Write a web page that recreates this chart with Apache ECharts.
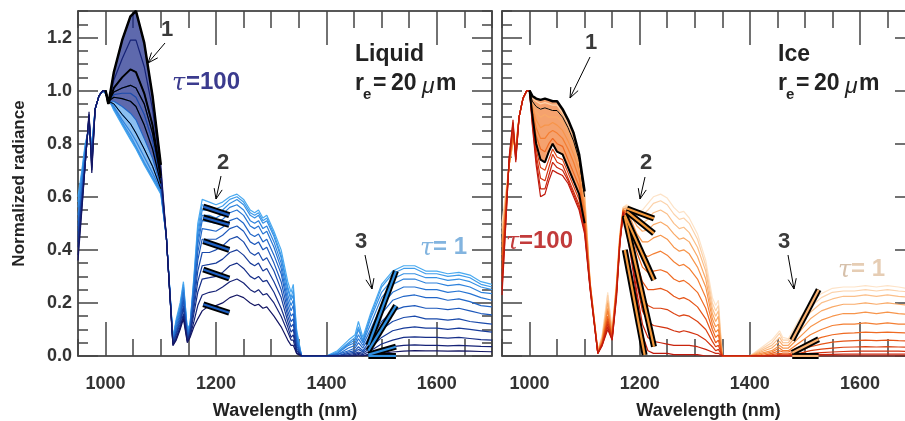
<!DOCTYPE html>
<html><head><meta charset="utf-8">
<script src="https://cdn.jsdelivr.net/npm/echarts@6/dist/echarts.min.js"></script>
<style>html,body{margin:0;padding:0;background:#fff}#c{width:905px;height:421px}</style>
</head><body><div id="c"></div>
<script>
// ---------- DATA ----------
const wlLiquid = [950,957,963,970,975,981,988,995,1000,1005,1015,1030,1045,1055,1070,1085,1100,1110,1122,1128,1135,1141,1148,1153,1160,1167,1175,1188,1200,1212,1225,1238,1250,1262,1270,1277,1285,1292,1305,1318,1330,1336,1340,1346,1355,1400,1420,1440,1452,1458,1466,1480,1500,1520,1540,1560,1580,1600,1620,1640,1660,1680,1700];
// liquid curves: C1 = tau 1 (lightest) ... C12 = tau 100 (darkest)
const liquidC1 = [0.60,0.70,0.80,0.86,0.80,0.93,0.98,1.00,0.99,0.97, 0.925,0.87,0.815,0.78,0.72,0.665,0.61, 0.45,0.07,0.14,0.20,0.28,0.10,0.12, 0.30,0.50,0.59,0.58,0.57,0.58,0.60,0.61,0.59,0.55,0.54,0.55,0.52,0.53,0.47,0.40,0.28,0.24,0.27,0.10,0.00, 0,0.02,0.06,0.08,0.13,0.07,0.16,0.27,0.32,0.34,0.34,0.32,0.32,0.31,0.315,0.305,0.28,0.27];
const liquidC2 = [0.58,0.69,0.79,0.87,0.79,0.93,0.98,1.00,0.99,0.97, 0.93,0.875,0.82,0.785,0.725,0.67,0.615, 0.45,0.07,0.13,0.19,0.27,0.10,0.12, 0.29,0.48,0.57,0.565,0.555,0.565,0.59,0.60,0.58,0.54,0.53,0.54,0.51,0.52,0.46,0.38,0.26,0.22,0.25,0.09,0.00, 0,0.015,0.05,0.07,0.11,0.06,0.15,0.26,0.31,0.33,0.33,0.31,0.31,0.30,0.305,0.295,0.27,0.26];
const liquidC3 = [0.56,0.68,0.78,0.87,0.78,0.93,0.98,1.00,0.99,0.97, 0.935,0.88,0.83,0.79,0.73,0.675,0.62, 0.45,0.065,0.13,0.18,0.26,0.09,0.115, 0.28,0.46,0.55,0.55,0.54,0.55,0.575,0.59,0.57,0.53,0.52,0.53,0.50,0.51,0.45,0.37,0.25,0.21,0.23,0.08,0.00, 0,0.01,0.045,0.06,0.10,0.055,0.14,0.24,0.29,0.31,0.31,0.295,0.295,0.285,0.29,0.28,0.26,0.25];
const liquidC4 = [0.53,0.66,0.77,0.88,0.77,0.93,0.98,1.00,0.99,0.96, 0.94,0.89,0.845,0.81,0.75,0.69,0.625, 0.45,0.06,0.12,0.17,0.25,0.09,0.11, 0.27,0.44,0.53,0.53,0.52,0.535,0.56,0.57,0.55,0.51,0.50,0.51,0.48,0.49,0.43,0.35,0.23,0.19,0.21,0.07,0.00, 0,0.01,0.04,0.05,0.08,0.05,0.12,0.22,0.27,0.29,0.29,0.275,0.275,0.265,0.27,0.26,0.24,0.235];
const liquidC5 = [0.51,0.64,0.76,0.88,0.76,0.93,0.98,1.00,0.99,0.96, 0.95,0.91,0.875,0.84,0.78,0.715,0.63, 0.45,0.06,0.11,0.16,0.24,0.085,0.105, 0.26,0.42,0.51,0.505,0.50,0.515,0.54,0.55,0.53,0.49,0.48,0.49,0.46,0.47,0.41,0.33,0.21,0.17,0.19,0.06,0.00, 0,0.005,0.03,0.04,0.065,0.04,0.10,0.19,0.24,0.26,0.26,0.25,0.25,0.24,0.245,0.235,0.22,0.21];
const liquidC6 = [0.49,0.62,0.75,0.89,0.75,0.93,0.98,1.00,0.99,0.96, 0.96,0.94,0.915,0.89,0.82,0.745,0.64, 0.45,0.055,0.10,0.15,0.22,0.08,0.10, 0.24,0.39,0.48,0.475,0.47,0.485,0.51,0.52,0.50,0.46,0.45,0.46,0.43,0.44,0.38,0.31,0.19,0.15,0.16,0.05,0.00, 0,0.005,0.02,0.03,0.05,0.03,0.08,0.16,0.21,0.225,0.23,0.22,0.22,0.21,0.215,0.205,0.19,0.185];
const liquidC7 = [0.47,0.61,0.74,0.89,0.74,0.93,0.98,1.00,0.99,0.96, 0.975,0.97,0.96,0.94,0.87,0.78,0.65, 0.45,0.05,0.09,0.14,0.21,0.075,0.095, 0.22,0.36,0.44,0.44,0.44,0.455,0.48,0.49,0.47,0.43,0.42,0.43,0.40,0.41,0.35,0.28,0.17,0.13,0.14,0.04,0.00, 0,0,0.015,0.02,0.035,0.02,0.06,0.13,0.17,0.185,0.19,0.18,0.18,0.175,0.18,0.17,0.16,0.155];
const liquidC8 = [0.45,0.60,0.73,0.90,0.73,0.93,0.98,1.00,1.00,0.96, 0.985,0.99,0.99,0.975,0.91,0.81,0.66, 0.45,0.05,0.085,0.13,0.19,0.07,0.09, 0.20,0.32,0.39,0.39,0.40,0.415,0.44,0.45,0.43,0.39,0.38,0.39,0.36,0.37,0.32,0.25,0.15,0.11,0.12,0.03,0.00, 0,0,0.01,0.015,0.025,0.015,0.045,0.10,0.13,0.145,0.15,0.14,0.14,0.135,0.14,0.13,0.125,0.12];
const liquidC9 = [0.43,0.59,0.73,0.90,0.72,0.93,0.98,1.00,1.00,0.96, 0.995,1.01,1.02,1.01,0.95,0.84,0.67, 0.45,0.045,0.08,0.12,0.18,0.065,0.085, 0.18,0.28,0.34,0.345,0.35,0.365,0.39,0.40,0.38,0.35,0.34,0.35,0.32,0.33,0.28,0.22,0.13,0.09,0.10,0.02,0.00, 0,0,0.005,0.01,0.015,0.01,0.03,0.07,0.095,0.105,0.11,0.105,0.105,0.10,0.105,0.10,0.095,0.09];
const liquidC10 = [0.41,0.58,0.72,0.91,0.71,0.93,0.98,1.00,1.00,0.95, 1.01,1.05,1.08,1.07,0.99,0.87,0.68, 0.45,0.045,0.07,0.11,0.16,0.06,0.08, 0.16,0.24,0.29,0.295,0.30,0.315,0.34,0.35,0.33,0.30,0.29,0.30,0.28,0.285,0.24,0.18,0.11,0.07,0.08,0.02,0.00, 0,0,0,0.005,0.01,0.005,0.02,0.045,0.06,0.07,0.072,0.07,0.07,0.067,0.07,0.066,0.062,0.06];
const liquidC11 = [0.38,0.56,0.72,0.91,0.70,0.93,0.98,1.00,1.00,0.95, 1.04,1.12,1.19,1.19,1.09,0.93,0.70, 0.45,0.04,0.065,0.105,0.15,0.055,0.075, 0.13,0.19,0.23,0.24,0.245,0.26,0.28,0.29,0.275,0.25,0.24,0.25,0.23,0.235,0.20,0.15,0.09,0.06,0.06,0.01,0.00, 0,0,0,0,0.005,0,0.01,0.025,0.035,0.04,0.042,0.04,0.04,0.038,0.04,0.038,0.036,0.035];
const liquidC12 = [0.36,0.55,0.72,0.92,0.69,0.93,0.98,1.00,1.00,0.95, 1.07,1.19,1.28,1.30,1.18,0.98,0.72, 0.45,0.04,0.06,0.10,0.14,0.05,0.07, 0.11,0.14,0.17,0.19,0.19,0.20,0.22,0.23,0.22,0.20,0.19,0.195,0.18,0.185,0.15,0.11,0.06,0.04,0.04,0.01,0.00, 0,0,0,0,0,0,0.005,0.01,0.015,0.018,0.02,0.019,0.019,0.018,0.019,0.018,0.017,0.016];

const wlIce = [950,957,963,970,975,981,988,995,1000,1005,1012,1020,1028,1035,1042,1050,1060,1070,1080,1090,1100,1110,1124,1132,1142,1150,1158,1164,1170,1176,1185,1195,1205,1215,1225,1238,1250,1262,1272,1280,1290,1305,1320,1332,1338,1343,1350,1400,1420,1440,1454,1460,1470,1490,1510,1530,1550,1570,1590,1610,1630,1650,1670,1700];
// ice curves: C1 = tau 1 (lightest) ... C12 = tau 100 (dark red)
const iceC1 = [0.50,0.62,0.72,0.80,0.80,0.90,0.97,1.0,1.0, 0.98,0.97,0.965,0.97,0.965,0.96,0.96,0.93,0.89,0.84,0.76,0.62, 0.28,0.02,0.08,0.24,0.10,0.28,0.46,0.56, 0.57,0.56,0.545,0.55,0.575,0.60,0.61,0.595,0.56,0.54,0.545,0.52,0.46,0.36,0.22,0.19,0.21,0.0, 0,0.03,0.06,0.095,0.07,0.065,0.14,0.2,0.235,0.255,0.26,0.26,0.265,0.26,0.265,0.26,0.25];
const iceC2 = [0.48,0.61,0.72,0.80,0.79,0.90,0.97,1.0,1.0, 0.97,0.96,0.95,0.955,0.95,0.945,0.945,0.915,0.875,0.83,0.75,0.61, 0.28,0.02,0.075,0.23,0.10,0.28,0.46,0.56, 0.565,0.55,0.53,0.53,0.55,0.575,0.585,0.57,0.535,0.515,0.52,0.50,0.44,0.34,0.20,0.17,0.19,0.0, 0,0.025,0.05,0.085,0.06,0.06,0.125,0.185,0.22,0.24,0.245,0.245,0.25,0.245,0.25,0.245,0.24];
const iceC3 = [0.46,0.60,0.72,0.81,0.79,0.90,0.97,1.0,1.0, 0.96,0.94,0.93,0.935,0.93,0.925,0.925,0.90,0.86,0.81,0.74,0.60, 0.28,0.02,0.07,0.21,0.09,0.27,0.45,0.555, 0.56,0.54,0.51,0.50,0.515,0.54,0.55,0.535,0.50,0.48,0.485,0.465,0.41,0.32,0.18,0.15,0.17,0.0, 0,0.02,0.04,0.07,0.05,0.05,0.11,0.165,0.2,0.215,0.225,0.225,0.23,0.225,0.23,0.225,0.22];
const iceC4 = [0.43,0.59,0.72,0.81,0.78,0.90,0.97,1.0,1.0, 0.95,0.92,0.90,0.91,0.90,0.90,0.90,0.88,0.84,0.79,0.72,0.58, 0.275,0.02,0.065,0.20,0.09,0.27,0.45,0.555, 0.555,0.525,0.49,0.47,0.475,0.495,0.505,0.49,0.46,0.44,0.445,0.43,0.375,0.29,0.16,0.13,0.15,0.0, 0,0.015,0.03,0.055,0.04,0.04,0.09,0.14,0.17,0.185,0.195,0.195,0.2,0.195,0.2,0.195,0.19];
const iceC5 = [0.41,0.58,0.72,0.82,0.78,0.90,0.97,1.0,1.0, 0.94,0.89,0.86,0.87,0.87,0.88,0.87,0.85,0.81,0.76,0.70,0.56, 0.275,0.015,0.06,0.18,0.08,0.26,0.44,0.55, 0.55,0.51,0.46,0.43,0.43,0.445,0.455,0.44,0.41,0.395,0.40,0.385,0.335,0.26,0.14,0.11,0.12,0.0, 0,0.01,0.02,0.04,0.03,0.03,0.07,0.11,0.135,0.15,0.16,0.16,0.165,0.16,0.165,0.16,0.155];
const iceC6 = [0.38,0.57,0.72,0.83,0.77,0.90,0.97,1.0,1.0, 0.93,0.86,0.82,0.82,0.84,0.85,0.84,0.82,0.78,0.73,0.67,0.54, 0.27,0.015,0.055,0.17,0.08,0.26,0.44,0.55, 0.545,0.49,0.43,0.385,0.375,0.385,0.395,0.38,0.355,0.34,0.345,0.33,0.29,0.22,0.12,0.09,0.10,0.0, 0,0.005,0.015,0.03,0.02,0.02,0.05,0.08,0.10,0.115,0.12,0.12,0.125,0.12,0.125,0.12,0.12];
const iceC7 = [0.36,0.56,0.73,0.84,0.76,0.90,0.97,1.0,1.0, 0.92,0.83,0.78,0.77,0.80,0.82,0.80,0.79,0.74,0.69,0.64,0.52, 0.27,0.015,0.05,0.15,0.075,0.25,0.44,0.55, 0.54,0.47,0.39,0.335,0.315,0.32,0.325,0.315,0.29,0.28,0.285,0.27,0.24,0.18,0.10,0.07,0.08,0.0, 0,0,0.01,0.02,0.015,0.015,0.035,0.055,0.07,0.08,0.085,0.087,0.09,0.088,0.09,0.088,0.085];
const iceC8 = [0.33,0.55,0.73,0.85,0.76,0.90,0.97,1.0,1.0, 0.91,0.80,0.74,0.73,0.77,0.80,0.77,0.76,0.71,0.66,0.61,0.50, 0.265,0.01,0.05,0.14,0.07,0.25,0.43,0.545, 0.535,0.45,0.35,0.28,0.25,0.25,0.255,0.245,0.225,0.215,0.22,0.21,0.185,0.14,0.08,0.05,0.06,0.0, 0,0,0.005,0.01,0.008,0.008,0.02,0.035,0.045,0.052,0.056,0.058,0.06,0.058,0.06,0.058,0.056];
const iceC9 = [0.30,0.54,0.73,0.86,0.75,0.90,0.97,1.0,1.0, 0.90,0.78,0.71,0.70,0.74,0.78,0.75,0.74,0.69,0.64,0.59,0.49, 0.26,0.01,0.045,0.13,0.07,0.24,0.43,0.545, 0.53,0.43,0.31,0.225,0.19,0.18,0.18,0.175,0.16,0.15,0.155,0.15,0.13,0.10,0.055,0.035,0.04,0.0, 0,0,0,0.005,0.004,0.004,0.01,0.02,0.026,0.03,0.033,0.034,0.035,0.034,0.035,0.034,0.033];
const iceC10 = [0.28,0.53,0.74,0.87,0.74,0.90,0.97,1.0,1.0, 0.89,0.76,0.67,0.66,0.71,0.76,0.73,0.72,0.67,0.62,0.57,0.48, 0.26,0.01,0.045,0.12,0.065,0.24,0.43,0.54, 0.52,0.41,0.27,0.17,0.13,0.115,0.11,0.105,0.095,0.09,0.095,0.09,0.08,0.06,0.035,0.02,0.025,0.0, 0,0,0,0,0,0,0.005,0.01,0.013,0.015,0.017,0.018,0.018,0.018,0.018,0.018,0.017];
const iceC11 = [0.25,0.51,0.74,0.88,0.74,0.90,0.97,1.0,1.0, 0.88,0.74,0.63,0.63,0.68,0.73,0.71,0.70,0.66,0.61,0.56,0.47, 0.255,0.01,0.04,0.11,0.06,0.23,0.42,0.54, 0.50,0.38,0.24,0.12,0.07,0.055,0.05,0.045,0.04,0.04,0.04,0.04,0.035,0.025,0.015,0.01,0.01,0.0, 0,0,0,0,0,0,0,0.004,0.005,0.006,0.007,0.007,0.007,0.007,0.007,0.007,0.007];
const iceC12 = [0.23,0.50,0.75,0.89,0.73,0.90,0.97,1.0,1.0, 0.87,0.72,0.60,0.61,0.66,0.70,0.69,0.68,0.65,0.60,0.55,0.46, 0.25,0.01,0.04,0.10,0.06,0.22,0.42,0.54, 0.48,0.36,0.22,0.08,0.02,0.01,0.01,0.01,0.005,0.005,0.005,0.005,0.005,0.0,0.0,0.0,0.0,0.0, 0,0,0,0,0,0,0,0,0,0,0,0,0,0,0,0,0];

// tick labels
const xTickLabels = [1000,1200,1400,1600];
const yTickLabels = [0,0.2,0.4,0.6,0.8,1.0,1.2];

// tangent markers [x1,y1,x2,y2] in data units
const liquidTangents2 = [[1177,0.563,1224,0.531],[1177,0.522,1224,0.494],[1177,0.433,1224,0.400],[1177,0.326,1224,0.292],[1177,0.195,1224,0.163]];
const liquidTangents3 = [[1476,0.04,1526,0.32],[1476,0.02,1526,0.19],[1476,0.005,1526,0.035],[1476,0.0,1526,0.0]];
const iceTangents2 = [[1177,0.556,1226,0.518],[1177,0.544,1226,0.462],[1173,0.531,1226,0.286],[1173,0.525,1226,0.035],[1173,0.40,1209,0.004]];
const iceTangents3 = [[1477,0.06,1525,0.25],[1477,0.012,1525,0.063],[1477,0.0,1525,0.0]];

// ---------- STYLE ----------
const liquidCurves = [liquidC1,liquidC2,liquidC3,liquidC4,liquidC5,liquidC6,liquidC7,liquidC8,liquidC9,liquidC10,liquidC11,liquidC12];
const iceCurves = [iceC1,iceC2,iceC3,iceC4,iceC5,iceC6,iceC7,iceC8,iceC9,iceC10,iceC11,iceC12];
const blueColors = ['#4aaaf0','#409deb','#3690e4','#2e82dc','#2774d3','#2166c8','#1d58bb','#1a4aab','#183c9a','#162e88','#152276','#141663'];
const redColors = ['#fde3c8','#fcd2aa','#fbbf89','#f9aa68','#f7954b','#f47f33','#ef6a22','#e65518','#dc4212','#d3320f','#c9240d','#c0180c'];
const FONT = '"Liberation Sans", Arial, Helvetica, sans-serif';
const AX = '#222', TK = '#444';

function xAxesFor(g, withName) {
  const base = {type:'value', gridIndex:g, min:950, max:1700, splitLine:{show:false}};
  return [
    Object.assign({}, base, {position:'bottom', interval:50,
      axisLine:{show:true, onZero:false, lineStyle:{color:AX, width:1.5}},
      axisTick:{show:true, inside:true, length:17, lineStyle:{color:TK, width:1.5}},
      axisLabel:{show:true, margin:19, fontSize:18, fontWeight:'bold', color:'#333', fontFamily:FONT,
        formatter: v => xTickLabels.indexOf(Math.round(v)) >= 0 ? String(Math.round(v)) : ''},
      name: withName ? 'Wavelength (nm)' : '', nameLocation:'middle', nameGap:46,
      nameTextStyle:{fontSize:18, fontWeight:'bold', color:'#222', fontFamily:FONT}}),
    Object.assign({}, base, {position:'bottom', axisLine:{show:false, onZero:false},
      axisTick:{show:true, inside:true, length:34, customValues:xTickLabels, lineStyle:{color:TK, width:1.5}},
      axisLabel:{show:false}}),
    Object.assign({}, base, {position:'top', interval:50,
      axisLine:{show:true, onZero:false, lineStyle:{color:AX, width:1.5}},
      axisTick:{show:true, inside:true, length:17, lineStyle:{color:TK, width:1.5}},
      axisLabel:{show:false}}),
    Object.assign({}, base, {position:'top', axisLine:{show:false, onZero:false},
      axisTick:{show:true, inside:true, length:34, customValues:xTickLabels, lineStyle:{color:TK, width:1.5}},
      axisLabel:{show:false}})
  ];
}
function yAxesFor(g, withLabels) {
  const base = {type:'value', gridIndex:g, min:0, max:1.3, splitLine:{show:false}};
  return [
    Object.assign({}, base, {position:'left', interval:0.05,
      axisLine:{show:true, onZero:false, lineStyle:{color:AX, width:1.5}},
      axisTick:{show:true, inside:true, length:10, lineStyle:{color:TK, width:1.5}},
      axisLabel:{show:withLabels, margin:6, fontSize:18, fontWeight:'bold', color:'#333', fontFamily:FONT,
        formatter: v => { const k = Math.round(v*5); return (Math.abs(v*5-k) < 1e-6 && k <= 6) ? (k/5).toFixed(1) : ''; }},
      name: withLabels ? 'Normalized radiance' : '', nameLocation:'middle', nameGap:50,
      nameTextStyle:{fontSize:17, fontWeight:'bold', color:'#222', fontFamily:FONT}}),
    Object.assign({}, base, {position:'left', axisLine:{show:false, onZero:false},
      axisTick:{show:true, inside:true, length:20, customValues:yTickLabels, lineStyle:{color:TK, width:1.5}},
      axisLabel:{show:false}}),
    Object.assign({}, base, {position:'right', interval:0.05,
      axisLine:{show:true, onZero:false, lineStyle:{color:AX, width:1.5}},
      axisTick:{show:true, inside:true, length:10, lineStyle:{color:TK, width:1.5}},
      axisLabel:{show:false}}),
    Object.assign({}, base, {position:'right', axisLine:{show:false, onZero:false},
      axisTick:{show:true, inside:true, length:20, customValues:yTickLabels, lineStyle:{color:TK, width:1.5}},
      axisLabel:{show:false}})
  ];
}

const series = [];
function addCurves(wl, curves, colors, axis, width) {
  curves.forEach((c, k) => {
    series.push({type:'line', xAxisIndex:axis, yAxisIndex:axis, data: wl.map((x,i)=>[x,c[i]]),
      showSymbol:false, silent:true, animation:false, z:2,
      lineStyle:{width:width, color:colors[k]}});
  });
}
function addOverlay(wl, c, axis, width) {
  series.push({type:'line', xAxisIndex:axis, yAxisIndex:axis,
    data: wl.map((x,i)=>[x,c[i]]).filter(p => p[0] >= 1000 && p[0] <= 1100),
    showSymbol:false, silent:true, animation:false, z:3, lineStyle:{width:width, color:'#000'}});
}
// shaded band between two curves over the 1000-1100 nm window (polygon through the axis scales)
function addBand(wl, low, high, axis, color, opacity) {
  const idx = wl.map((x,i)=>i).filter(i => wl[i] >= 1000 && wl[i] <= 1100);
  series.push({type:'custom', xAxisIndex:axis, yAxisIndex:axis, silent:true, animation:false, z:1,
    data:[[wl[idx[0]], low[idx[0]]]],
    renderItem: (params, api) => {
      const pts = idx.map(i => api.coord([wl[i], high[i]]))
        .concat(idx.slice().reverse().map(i => api.coord([wl[i], low[i]])));
      return {type:'polygon', shape:{points:pts}, style:{fill:color, opacity:opacity}};
    }});
}
function addTangents(list, inner, axis) {
  list.forEach(t => {
    series.push({type:'line', xAxisIndex:axis, yAxisIndex:axis, data:[[t[0],t[1]],[t[2],t[3]]],
      showSymbol:false, silent:true, animation:false, z:4, lineStyle:{width:6, color:'#000', cap:'butt'}});
    series.push({type:'line', xAxisIndex:axis, yAxisIndex:axis, data:[[t[0],t[1]],[t[2],t[3]]],
      showSymbol:false, silent:true, animation:false, z:5, lineStyle:{width:2.2, color:inner, cap:'butt'}});
  });
}
addBand(wlLiquid, liquidC1, liquidC6, 0, '#3d95e6', 0.6);
addBand(wlLiquid, liquidC6, liquidC12, 0, '#1a2a8a', 0.7);
addBand(wlIce, iceC8, iceC1, 4, '#f07020', 0.65);
addCurves(wlLiquid, liquidCurves, blueColors, 0, 1.2);
addOverlay(wlLiquid, liquidC5, 0, 1);
addOverlay(wlLiquid, liquidC7, 0, 1.2);
addOverlay(wlLiquid, liquidC9, 0, 1.2);
addOverlay(wlLiquid, liquidC10, 0, 2);
addOverlay(wlLiquid, liquidC12, 0, 2.5);
addCurves(wlIce, iceCurves, redColors, 4, 1.2);
addOverlay(wlIce, iceC1, 4, 2.5);
addOverlay(wlIce, iceC3, 4, 1);
addOverlay(wlIce, iceC8, 4, 2);
addTangents(liquidTangents2, '#1e5fc0', 0);
addTangents(liquidTangents3, '#2f8fe0', 0);
addTangents(iceTangents2, '#f59a3c', 4);
addTangents(iceTangents3, '#f8b070', 4);

// ---------- ANNOTATIONS ----------
function txt(s, x, y, font, fill, align) {
  return {type:'text', silent:true, z:100, style:{text:s, x:x, y:y, font:font, fill:fill, align:align||'center', verticalAlign:'middle'}};
}
function arrow(x1,y1,x2,y2) {
  const a = Math.atan2(y2-y1, x2-x1), L = 11, s = 0.38;
  return [
    {type:'line', silent:true, z:100, shape:{x1:x1,y1:y1,x2:x2,y2:y2}, style:{stroke:'#000', lineWidth:1}},
    {type:'polyline', silent:true, z:100, shape:{points:[[x2-L*Math.cos(a-s), y2-L*Math.sin(a-s)],[x2,y2],[x2-L*Math.cos(a+s), y2-L*Math.sin(a+s)]]}, style:{stroke:'#000', lineWidth:1, fill:null}}
  ];
}
const BIG = 'bold 23px ' + FONT;
const NUM = 'bold 22px ' + FONT;
const TAU = 'italic 24px "DejaVu Serif", serif';
function reLabel(x0) {
  return [
    txt('r', x0, 84, BIG, '#222', 'left'),
    txt('e', x0+8, 95, 'bold 15px ' + FONT, '#222', 'left'),
    txt('=', x0+18, 84, BIG, '#222', 'left'),
    txt('20', x0+36, 84, BIG, '#222', 'left'),
    txt('\u03bc', x0+67, 87, 'italic 23px ' + FONT, '#222', 'left'),
    txt('m', x0+81, 84, BIG, '#222', 'left')
  ];
}
const graphics = [].concat(
  txt('Liquid', 355, 55, BIG, '#222', 'left'),
  reLabel(355),
  txt('Ice', 778, 55, BIG, '#222', 'left'),
  reLabel(778),
  txt('1', 167, 30, NUM, '#3a3a3a'),
  txt('2', 223, 163, NUM, '#3a3a3a'),
  txt('3', 361, 242, NUM, '#3a3a3a'),
  txt('1', 591, 43, NUM, '#3a3a3a'),
  txt('2', 646, 163, NUM, '#3a3a3a'),
  txt('3', 784, 242, NUM, '#3a3a3a'),
  arrow(165,43,148,63), arrow(221,176,216,199), arrow(365,255,372,289),
  arrow(590,57,570,98), arrow(645,177,640,199), arrow(788,255,794,289),
  txt('\u03c4', 172, 84, TAU, '#3b3b8e', 'left'),
  txt('=100', 186, 82, 'bold 24px ' + FONT, '#3b3b8e', 'left'),
  txt('\u03c4', 420, 249, TAU, '#82b4df', 'left'),
  txt('= 1', 433, 247, 'bold 24px ' + FONT, '#82b4df', 'left'),
  txt('\u03c4', 506, 243, TAU, '#c23b3b', 'left'),
  txt('=100', 519, 241, 'bold 24px ' + FONT, '#c23b3b', 'left'),
  txt('\u03c4', 838, 271, TAU, '#d6c0aa', 'left'),
  txt('= 1', 851, 269, 'bold 24px ' + FONT, '#e6cdb4', 'left')
);

const chart = echarts.init(document.getElementById('c'), null, {renderer:'canvas'});
chart.setOption({
  animation:false,
  backgroundColor:'#fff',
  grid:[{left:78, top:11, width:414, height:345, containLabel:false, outerBoundsMode:'none'},
        {left:502, top:11, width:413, height:345, containLabel:false, outerBoundsMode:'none'}],
  xAxis: xAxesFor(0, true).concat(xAxesFor(1, true)),
  yAxis: yAxesFor(0, true).concat(yAxesFor(1, false)),
  series: series,
  graphic: graphics
});
</script></body></html>
